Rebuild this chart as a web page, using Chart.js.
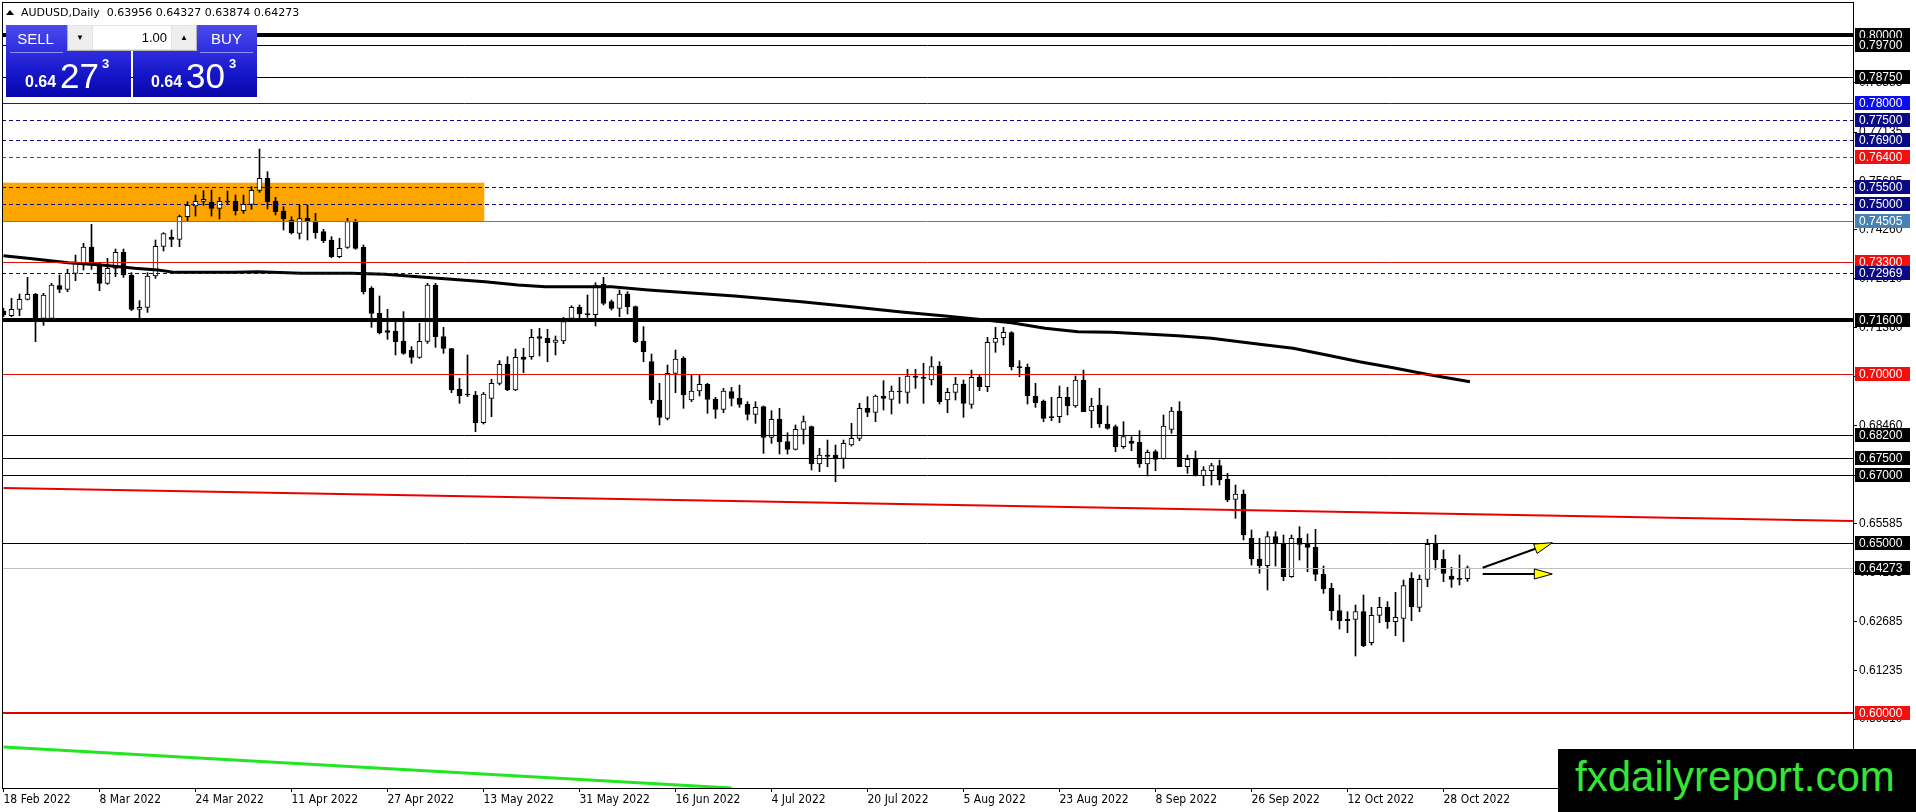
<!DOCTYPE html>
<html>
<head>
<meta charset="UTF-8">
<title>AUDUSD Daily</title>
<script src="https://cdn.jsdelivr.net/npm/chart.js@4.4.0/dist/chart.umd.min.js"></script>
<style>
  body { margin: 0; background: #fff; }
  #wrap { position: relative; width: 1916px; height: 812px; overflow: hidden; }
  #chart { position: absolute; left: 0; top: 0; }
  #head { position: absolute; left: 21px; top: 6px; font: 11px 'DejaVu Sans', sans-serif; color: #000; white-space: pre; }
  #tri { position: absolute; left: 6px; top: 10px; width: 0; height: 0;
         border-left: 4px solid transparent; border-right: 4px solid transparent; border-bottom: 5px solid #000; }
  .blk { position: absolute; top: 25px; height: 72px;
         background: linear-gradient(to bottom, #4b4bec 0%, #2f2fe0 35%, #1515c8 70%, #0707aa 100%); }
  .btn { position: absolute; top: 30px; width: 59px; text-align: center; color: #fff;
         font: 15px 'Liberation Sans Narrow', 'Liberation Sans', sans-serif; line-height: 18px; }
  .sep { position: absolute; top: 52px; height: 1px; background: #8e8ef4; }
  #ctl { position: absolute; left: 67px; top: 25px; width: 128px; height: 25px; background: #e4e4e4;
         border: 1px solid #b4b4b4; border-top: none; }
  #ctl div { position: absolute; top: 1px; height: 23px; font: 13px 'Liberation Sans', sans-serif; line-height: 23px; color: #000; }
  .arr { width: 24px; text-align: center; font-size: 8px !important; background: #eeeeee; }
  #inp { left: 25px; width: 74px; background: #fff; text-align: right; padding-right: 4px; }
  .pr { position: absolute; color: #fff; font-family: 'Liberation Sans', sans-serif; line-height: 1; white-space: pre; }
  .s { font-size: 16px; font-weight: bold; top: 74px; }
  .b { font-size: 35px; top: 58px; }
  .p { font-size: 13px; font-weight: bold; top: 57px; }
  #logo { position: absolute; left: 1558px; top: 749px; width: 358px; height: 63px; background: #000;
          color: #35e635; font: 42px 'Liberation Sans', sans-serif; line-height: 1; box-sizing: border-box;
          padding: 7px 0 0 17px; }
</style>
</head>
<body>
<div id="wrap">
  <canvas id="chart" width="1916" height="812"></canvas>
  <div id="tri"></div>
  <div id="head">AUDUSD,Daily  0.63956 0.64327 0.63874 0.64273</div>
  <div class="blk" style="left:6px;width:125px"></div>
  <div class="blk" style="left:133px;width:124px"></div>
  <div class="btn" style="left:6px">SELL</div>
  <div class="btn" style="left:197px">BUY</div>
  <div class="sep" style="left:10px;width:53px"></div>
  <div class="sep" style="left:200px;width:53px"></div>
  <div id="ctl">
    <div class="arr" style="left:0">&#9660;</div>
    <div id="inp">1.00</div>
    <div class="arr" style="left:104px">&#9650;</div>
  </div>
  <div class="pr s" style="left:25px">0.64</div>
  <div class="pr b" style="left:60px">27</div>
  <div class="pr p" style="left:102px">3</div>
  <div class="pr s" style="left:151px">0.64</div>
  <div class="pr b" style="left:186px">30</div>
  <div class="pr p" style="left:229px">3</div>
  <div id="logo">fxdailyreport.com</div>
</div>

<script>
// date labels on the time axis, one every 12 daily bars
var xLabels = ['18 Feb 2022', '8 Mar 2022', '24 Mar 2022', '11 Apr 2022', '27 Apr 2022', '13 May 2022',
  '31 May 2022', '16 Jun 2022', '4 Jul 2022', '20 Jul 2022', '5 Aug 2022', '23 Aug 2022',
  '8 Sep 2022', '26 Sep 2022', '12 Oct 2022', '28 Oct 2022'];
var xTickIdx = [0, 12, 24, 36, 48, 60, 72, 84, 96, 108, 120, 132, 144, 156, 168, 180];

// daily OHLC, bar 0 = 18 Feb 2022
var opens = [
  0.71853, 0.71715, 0.71902, 0.72198, 0.72345, 0.71637, 0.71637, 0.72601, 0.72493, 0.72965,
  0.73260, 0.73742, 0.73201, 0.72670, 0.73112, 0.73585, 0.72916, 0.71902, 0.71961, 0.72886,
  0.73762, 0.74028, 0.73969, 0.74638, 0.74953, 0.75090, 0.75071, 0.74884, 0.75090, 0.75090,
  0.74815, 0.75002, 0.75415, 0.75769, 0.75100, 0.74805, 0.74539, 0.74146, 0.74589, 0.74490,
  0.74195, 0.73949, 0.73457, 0.73733, 0.74490, 0.73733, 0.72523, 0.71785, 0.71273, 0.71263,
  0.70968, 0.70702, 0.70486, 0.70958, 0.72621, 0.71096, 0.70742, 0.69541, 0.69404, 0.69374,
  0.68558, 0.69276, 0.69719, 0.70279, 0.69521, 0.70496, 0.70506, 0.71096, 0.71047, 0.70929,
  0.70968, 0.71637, 0.71962, 0.71765, 0.71745, 0.72650, 0.72129, 0.71932, 0.72355, 0.71981,
  0.70968, 0.70358, 0.69227, 0.68685, 0.70014, 0.70456, 0.69227, 0.69492, 0.69689, 0.69256,
  0.68951, 0.69473, 0.69276, 0.69099, 0.68803, 0.69030, 0.68124, 0.68665, 0.67996, 0.67770,
  0.68361, 0.68439, 0.67338, 0.67603, 0.67603, 0.67505, 0.67898, 0.68095, 0.68981, 0.68863,
  0.69345, 0.69246, 0.69492, 0.69453, 0.69935, 0.69895, 0.69817, 0.70230, 0.69227, 0.69453,
  0.69699, 0.69099, 0.69895, 0.69620, 0.70929, 0.71066, 0.71214, 0.70210, 0.70191, 0.69345,
  0.69197, 0.68735, 0.68735, 0.69305, 0.69050, 0.69817, 0.68902, 0.69079, 0.68518, 0.68440,
  0.67849, 0.68016, 0.67977, 0.67338, 0.67702, 0.67485, 0.68361, 0.68902, 0.67259, 0.67475,
  0.66993, 0.67141, 0.67288, 0.66885, 0.66295, 0.66452, 0.65144, 0.64533, 0.64337, 0.65193,
  0.64996, 0.64012, 0.65144, 0.64996, 0.64878, 0.64081, 0.63668, 0.63008, 0.62753, 0.62753,
  0.62979, 0.62064, 0.62870, 0.63107, 0.62684, 0.62782, 0.63963, 0.63107, 0.63933, 0.64966,
  0.64524, 0.64032, 0.63963, 0.63956];
var highs = [
  0.71932, 0.72227, 0.72355, 0.72847, 0.72375, 0.72375, 0.72670, 0.72916, 0.73083, 0.73506,
  0.73851, 0.74411, 0.73260, 0.73408, 0.73683, 0.73683, 0.72985, 0.72158, 0.72985, 0.73949,
  0.74165, 0.74244, 0.74687, 0.75081, 0.75277, 0.75405, 0.75425, 0.75208, 0.75395, 0.75277,
  0.75277, 0.75523, 0.76635, 0.75966, 0.75208, 0.74933, 0.74638, 0.74972, 0.74982, 0.74736,
  0.74264, 0.74048, 0.73998, 0.74589, 0.74559, 0.73802, 0.72572, 0.72296, 0.71903, 0.71539,
  0.71834, 0.70801, 0.71490, 0.72670, 0.72670, 0.71371, 0.70751, 0.69866, 0.70555, 0.69480,
  0.69450, 0.69837, 0.70388, 0.70506, 0.70732, 0.70751, 0.71312, 0.71342, 0.71312, 0.71116,
  0.71667, 0.72011, 0.72031, 0.72326, 0.72690, 0.72847, 0.72178, 0.72473, 0.72424, 0.72001,
  0.71391, 0.70584, 0.69718, 0.70260, 0.70702, 0.70506, 0.69964, 0.69964, 0.69718, 0.69305,
  0.69571, 0.69600, 0.69669, 0.69177, 0.69177, 0.69050, 0.68912, 0.68981, 0.68262, 0.68489,
  0.68754, 0.68459, 0.67800, 0.68045, 0.67898, 0.68045, 0.68538, 0.69128, 0.69325, 0.69374,
  0.69797, 0.69640, 0.69896, 0.70132, 0.70132, 0.70309, 0.70506, 0.70358, 0.69571, 0.69895,
  0.69817, 0.70112, 0.69965, 0.71076, 0.71371, 0.71371, 0.71244, 0.70388, 0.70289, 0.69719,
  0.69227, 0.69305, 0.69640, 0.69601, 0.69935, 0.70112, 0.69276, 0.69571, 0.69050, 0.68489,
  0.68587, 0.68144, 0.68322, 0.67751, 0.67751, 0.68784, 0.69010, 0.69177, 0.67603, 0.67721,
  0.67259, 0.67357, 0.67456, 0.67062, 0.66718, 0.66570, 0.65390, 0.65144, 0.65340, 0.65340,
  0.65242, 0.65242, 0.65488, 0.65272, 0.65409, 0.64327, 0.63815, 0.63470, 0.62979, 0.63176,
  0.63470, 0.63107, 0.63402, 0.63274, 0.63549, 0.63914, 0.64130, 0.64061, 0.65114, 0.65242,
  0.64799, 0.64287, 0.64652, 0.64327];
var lows = [
  0.71686, 0.71686, 0.71715, 0.72178, 0.70948, 0.71430, 0.71588, 0.72394, 0.72424, 0.72748,
  0.73063, 0.73083, 0.72453, 0.72640, 0.72867, 0.72847, 0.71863, 0.71637, 0.71814, 0.72817,
  0.73624, 0.73752, 0.73752, 0.74510, 0.74657, 0.74972, 0.74657, 0.74569, 0.75002, 0.74687,
  0.74736, 0.74854, 0.75356, 0.74864, 0.74687, 0.74244, 0.74126, 0.73979, 0.73949, 0.73998,
  0.73870, 0.73428, 0.73428, 0.73703, 0.73674, 0.72355, 0.71371, 0.71175, 0.71017, 0.70555,
  0.70574, 0.70309, 0.70456, 0.70899, 0.70781, 0.70604, 0.69443, 0.69128, 0.69325, 0.68292,
  0.68518, 0.68735, 0.69670, 0.69502, 0.69502, 0.70033, 0.70427, 0.70525, 0.70358, 0.70555,
  0.70889, 0.71637, 0.71539, 0.71667, 0.71411, 0.72031, 0.71883, 0.71686, 0.71765, 0.70919,
  0.70358, 0.69128, 0.68489, 0.68636, 0.69443, 0.68981, 0.69177, 0.69345, 0.68833, 0.68685,
  0.68853, 0.69050, 0.69010, 0.68636, 0.68538, 0.67652, 0.67947, 0.67633, 0.67633, 0.67751,
  0.67927, 0.67161, 0.67111, 0.67259, 0.66816, 0.67210, 0.67869, 0.68026, 0.68734, 0.68587,
  0.68931, 0.68813, 0.69128, 0.69128, 0.69571, 0.69128, 0.69670, 0.69108, 0.68853, 0.69227,
  0.68715, 0.68981, 0.69502, 0.69473, 0.70634, 0.70850, 0.70112, 0.69915, 0.69108, 0.69010,
  0.68587, 0.68617, 0.68558, 0.68784, 0.69010, 0.68882, 0.68410, 0.68420, 0.68361, 0.67702,
  0.67800, 0.67731, 0.67239, 0.66983, 0.67141, 0.67485, 0.68243, 0.67259, 0.67062, 0.66983,
  0.66698, 0.66718, 0.66718, 0.66226, 0.65734, 0.65094, 0.64356, 0.64110, 0.63618, 0.64327,
  0.63894, 0.63992, 0.64504, 0.64160, 0.63894, 0.63520, 0.62733, 0.62467, 0.62359, 0.61670,
  0.61946, 0.61995, 0.62654, 0.62487, 0.62270, 0.62094, 0.62713, 0.62979, 0.63717, 0.64228,
  0.63864, 0.63697, 0.63766, 0.63874];
var closes = [
  0.71745, 0.71902, 0.72198, 0.72345, 0.71607, 0.72325, 0.72621, 0.72493, 0.72965, 0.73260,
  0.73742, 0.73280, 0.72670, 0.73112, 0.73585, 0.72916, 0.71902, 0.71961, 0.72886, 0.73762,
  0.74136, 0.73969, 0.74638, 0.74972, 0.75090, 0.75150, 0.74884, 0.75090, 0.75071, 0.74815,
  0.75002, 0.75415, 0.75769, 0.75081, 0.74785, 0.74579, 0.74156, 0.74579, 0.74520, 0.74166,
  0.73930, 0.73457, 0.73703, 0.74490, 0.73703, 0.72424, 0.71785, 0.71214, 0.71224, 0.70948,
  0.70604, 0.70486, 0.70958, 0.72621, 0.71096, 0.70751, 0.69521, 0.69354, 0.69374, 0.68558,
  0.69404, 0.69719, 0.70279, 0.69521, 0.70486, 0.70427, 0.71076, 0.71047, 0.70919, 0.70998,
  0.71539, 0.71962, 0.71765, 0.71745, 0.72621, 0.72080, 0.71932, 0.72355, 0.71981, 0.70948,
  0.70653, 0.69227, 0.68715, 0.70014, 0.70437, 0.69374, 0.69492, 0.69689, 0.69246, 0.68951,
  0.69492, 0.69276, 0.69099, 0.68803, 0.69010, 0.68124, 0.68655, 0.67996, 0.67770, 0.68361,
  0.68587, 0.67338, 0.67603, 0.67564, 0.67505, 0.67947, 0.68095, 0.68981, 0.68863, 0.69345,
  0.69276, 0.69492, 0.69463, 0.69935, 0.69896, 0.69866, 0.70210, 0.69177, 0.69453, 0.69699,
  0.69128, 0.69895, 0.69620, 0.70929, 0.71047, 0.71224, 0.70210, 0.70181, 0.69355, 0.69148,
  0.68686, 0.68705, 0.69305, 0.69050, 0.69817, 0.68882, 0.69050, 0.68518, 0.68390, 0.67849,
  0.68144, 0.67947, 0.67338, 0.67682, 0.67475, 0.68459, 0.68902, 0.67259, 0.67475, 0.66983,
  0.67160, 0.67288, 0.66865, 0.66275, 0.66452, 0.65242, 0.64533, 0.64337, 0.65193, 0.64976,
  0.64012, 0.65144, 0.64966, 0.64878, 0.64081, 0.63648, 0.63008, 0.62713, 0.62713, 0.62979,
  0.61975, 0.62870, 0.63107, 0.62684, 0.62812, 0.63746, 0.63126, 0.63933, 0.64966, 0.64504,
  0.64110, 0.63933, 0.63933, 0.64273];

// moving average (thick black curve), read at bar positions
var maIdx = [0, 3.9, 8.1, 12.25, 16.4, 19.3, 21.4, 28.9, 31.8, 37.25, 43.5, 47.7, 51.8, 56, 60.2,
  64.3, 67.7, 76, 80.6, 91.4, 99.75, 106, 112.25, 117.7, 121.8, 126, 130.2, 134.3, 138.5, 142.7,
  146.8, 151, 157, 161.2, 165.4, 169.5, 173.7, 177.9, 183.3];
var maVal = [0.73486, 0.73388, 0.73280, 0.73211, 0.73112, 0.73063, 0.72994, 0.72994, 0.73014, 0.72965,
  0.72965, 0.72936, 0.72867, 0.72788, 0.72719, 0.72621, 0.72572, 0.72572, 0.72473, 0.72296,
  0.72129, 0.71981, 0.71824, 0.71706, 0.71608, 0.71509, 0.71342, 0.71244, 0.71224, 0.71175,
  0.71126, 0.71047, 0.70870, 0.70752, 0.70555, 0.70358, 0.70181, 0.69984, 0.69768];

// trend lines
var redTrendIdx = [0, 231.2];
var redTrendVal = [0.66630, 0.65656];
var greenTrendIdx = [0, 91];
var greenTrendVal = [0.58985, 0.57774];

// price axis ticks
var yTicks = [0.59810, 0.61235, 0.62685, 0.64135, 0.65585, 0.67010, 0.68460, 0.69910,
  0.71360, 0.72810, 0.74260, 0.75685, 0.77135, 0.78585];

// horizontal levels with their price tags
var levelPrices = [0.80000, 0.79700, 0.78750, 0.78000, 0.77500, 0.76900, 0.76400, 0.75500, 0.75000,
  0.74505, 0.73300, 0.72969, 0.71600, 0.70000, 0.68200, 0.67500, 0.67000, 0.65000, 0.64273, 0.60000];

// orange zone and the two arrows
var zoneIdx = [-0.2, 60.1];
var zoneVal = [0.74505, 0.75641];
var arrowFromIdx = [184.9, 184.9];
var arrowFromVal = [0.64277, 0.64091];
var arrowToIdx = [193.6, 193.6];
var arrowToVal = [0.65015, 0.64091];

// styles for each level (same order as levelPrices)
var NAVY = '#0a0a84', RED = '#f40f0f', BLK = '#000000';
var levelStyle = [
  { line: BLK, w: 4, dash: [], box: BLK },
  { line: BLK, w: 1, dash: [], box: BLK },
  { line: BLK, w: 1, dash: [], box: BLK },
  { line: '#1414c8', w: 1, dash: [], box: '#0c0cf0' },
  { line: NAVY, w: 1, dash: [4, 3], box: NAVY },
  { line: NAVY, w: 1, dash: [4, 3], box: NAVY },
  { line: '#d01818', w: 1, dash: [4, 3], box: RED },
  { line: NAVY, w: 1, dash: [4, 3], box: NAVY },
  { line: NAVY, w: 1, dash: [4, 3], box: NAVY },
  { line: '#4682b4', w: 1, dash: [], box: '#4682b4' },
  { line: '#e01010', w: 1, dash: [], box: RED },
  { line: NAVY, w: 1, dash: [4, 3], box: NAVY },
  { line: BLK, w: 4, dash: [], box: BLK },
  { line: '#e01010', w: 1, dash: [], box: RED },
  { line: BLK, w: 1, dash: [], box: BLK },
  { line: BLK, w: 1, dash: [], box: BLK },
  { line: BLK, w: 1, dash: [], box: BLK },
  { line: BLK, w: 1, dash: [], box: BLK },
  { line: '#c0c0c0', w: 1, dash: [], box: BLK },
  { line: '#e00000', w: 2, dash: [], box: RED }
];

var AXIS_FONT = "'Liberation Sans', sans-serif";
var DATE_FONT = "'Liberation Sans Narrow', 'DejaVu Sans Condensed', 'Liberation Sans', sans-serif";

var bodies = opens.map(function (o, i) { return { x: i, y: [o, closes[i]] }; });
var wicks = highs.map(function (h, i) {
  return { x: i, y: [Math.min(lows[i], opens[i], closes[i]), Math.max(h, opens[i], closes[i])] };
});
var bodyFill = opens.map(function (o, i) { return closes[i] > o ? '#ffffff' : '#000000'; });
var maPts = maIdx.map(function (x, i) { return { x: x, y: maVal[i] }; });
var redPts = redTrendIdx.map(function (x, i) { return { x: x, y: redTrendVal[i] }; });
var greenPts = greenTrendIdx.map(function (x, i) { return { x: x, y: greenTrendVal[i] }; });

var overlay = {
  id: 'overlay',
  beforeDatasetsDraw: function (chart) {
    var ctx = chart.ctx, xs = chart.scales.x, ys = chart.scales.y;
    var x0 = xs.getPixelForValue(zoneIdx[0]), x1 = xs.getPixelForValue(zoneIdx[1]);
    var y0 = ys.getPixelForValue(zoneVal[1]), y1 = ys.getPixelForValue(zoneVal[0]);
    ctx.save();
    ctx.beginPath();
    ctx.rect(chart.chartArea.left, chart.chartArea.top, chart.chartArea.width, chart.chartArea.height);
    ctx.clip();
    ctx.fillStyle = '#ffa500';
    ctx.fillRect(x0, y0, x1 - x0, y1 - y0);
    ctx.restore();
  },
  afterDatasetsDraw: function (chart) {
    var ctx = chart.ctx, xs = chart.scales.x, ys = chart.scales.y, a = chart.chartArea;
    ctx.save();
    levelPrices.forEach(function (p, k) {
      var st = levelStyle[k];
      var y = ys.getPixelForValue(p);
      y = (st.w % 2 === 1) ? Math.round(y) + 0.5 : Math.round(y);
      ctx.strokeStyle = st.line;
      ctx.lineWidth = st.w;
      ctx.setLineDash(st.dash);
      ctx.beginPath();
      ctx.moveTo(a.left, y);
      ctx.lineTo(a.right, y);
      ctx.stroke();
    });
    ctx.setLineDash([]);
    // arrows
    for (var k = 0; k < arrowFromIdx.length; k++) {
      var fx = xs.getPixelForValue(arrowFromIdx[k]), fy = ys.getPixelForValue(arrowFromVal[k]);
      var tx = xs.getPixelForValue(arrowToIdx[k]), ty = ys.getPixelForValue(arrowToVal[k]);
      var dx = tx - fx, dy = ty - fy, len = Math.sqrt(dx * dx + dy * dy);
      var ux = dx / len, uy = dy / len;
      var bx = tx - ux * 18, by = ty - uy * 18;
      ctx.strokeStyle = '#000';
      ctx.lineWidth = 2;
      ctx.beginPath();
      ctx.moveTo(fx, fy);
      ctx.lineTo(bx, by);
      ctx.stroke();
      ctx.beginPath();
      ctx.moveTo(tx, ty);
      ctx.lineTo(bx - uy * 5, by + ux * 5);
      ctx.lineTo(bx + uy * 5, by - ux * 5);
      ctx.closePath();
      ctx.fillStyle = '#ffff00';
      ctx.fill();
      ctx.lineWidth = 1;
      ctx.stroke();
    }
    ctx.restore();
  },
  afterDraw: function (chart) {
    var ctx = chart.ctx, ys = chart.scales.y, a = chart.chartArea;
    ctx.save();
    ctx.strokeStyle = '#000';
    ctx.lineWidth = 1;
    ctx.strokeRect(a.left + 0.5, a.top + 0.5, a.right - a.left, a.bottom - a.top);
    ctx.font = '12px ' + AXIS_FONT;
    ctx.textBaseline = 'middle';
    ctx.textAlign = 'left';
    levelPrices.forEach(function (p, k) {
      var y = Math.round(ys.getPixelForValue(p));
      ctx.fillStyle = levelStyle[k].box;
      ctx.fillRect(a.right + 2, y - 7, 55, 14);
      ctx.fillStyle = '#fff';
      ctx.fillText(p.toFixed(5), a.right + 6, y + 0.5);
    });
    ctx.restore();
  }
};

new Chart(document.getElementById('chart'), {
  type: 'bar',
  data: {
    datasets: [
      { type: 'line', data: maPts, borderColor: '#000', borderWidth: 3, pointRadius: 0, tension: 0, order: 1, clip: 0 },
      { type: 'line', data: redPts, borderColor: '#e80000', borderWidth: 2, pointRadius: 0, tension: 0, order: 1, clip: 0 },
      { type: 'line', data: greenPts, borderColor: '#22e622', borderWidth: 3, pointRadius: 0, tension: 0, order: 1, clip: 0 },
      { type: 'bar', data: bodies, backgroundColor: bodyFill, borderColor: '#000', borderWidth: 1,
        borderSkipped: false, barThickness: 5, minBarLength: 1, grouped: false, order: 2 },
      { type: 'bar', data: wicks, backgroundColor: '#000', borderWidth: 0,
        barThickness: 1, grouped: false, order: 3 }
    ]
  },
  options: {
    responsive: false,
    devicePixelRatio: 1,
    animation: false,
    events: [],
    layout: { padding: { left: 2, top: 2, right: 0, bottom: 0 } },
    plugins: { legend: { display: false }, tooltip: { enabled: false } },
    scales: {
      x: {
        type: 'linear', min: -0.1875, max: 231.1875, offset: false,
        afterBuildTicks: function (s) { s.ticks = xTickIdx.map(function (v) { return { value: v }; }); },
        afterFit: function (s) { s.height = 24; s.paddingLeft = 0; s.paddingRight = 0; },
        grid: { drawOnChartArea: false, drawTicks: true, tickLength: 4, color: '#000', offset: false },
        border: { display: false },
        ticks: {
          autoSkip: false, maxRotation: 0, minRotation: 0, align: 'start', padding: 1, color: '#000',
          font: { family: DATE_FONT, size: 12 },
          callback: function (v, i) { return xLabels[i]; }
        }
      },
      y: {
        type: 'linear', position: 'right', min: 0.577745, max: 0.80974, beginAtZero: false,
        afterBuildTicks: function (s) { s.ticks = yTicks.map(function (v) { return { value: v }; }); },
        afterFit: function (s) { s.width = 63; s.paddingTop = 0; s.paddingBottom = 0; },
        grid: { drawOnChartArea: false, drawTicks: true, tickLength: 4, color: '#000' },
        border: { display: false },
        ticks: {
          autoSkip: false, padding: 2, color: '#000',
          font: { family: AXIS_FONT, size: 12 },
          callback: function (v) { return Number(v).toFixed(5); }
        }
      }
    }
  },
  plugins: [overlay]
});
</script>
</body>
</html>
